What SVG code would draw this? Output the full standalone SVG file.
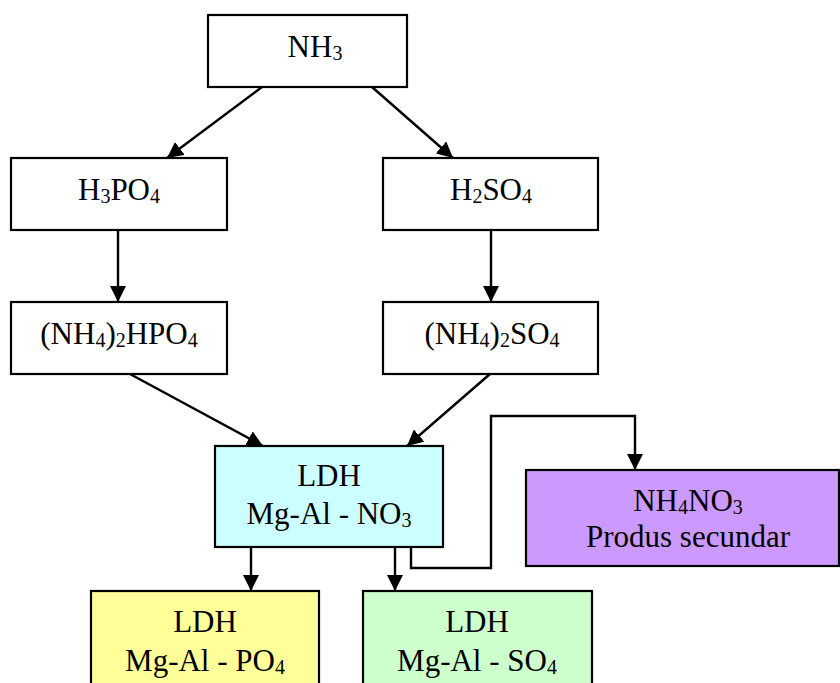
<svg xmlns="http://www.w3.org/2000/svg" width="840" height="683" viewBox="0 0 840 683">
<style>
.box{stroke:#000;stroke-width:2.2;fill:#fff}
text{font-family:"Liberation Serif","DejaVu Serif",serif;font-size:31px;text-anchor:middle;fill:#000}
.s{font-size:20px}
.c{fill:none;stroke:#000;stroke-width:2.4}
</style>
<defs>
<marker id="ah" markerUnits="userSpaceOnUse" markerWidth="16" markerHeight="16" refX="16" refY="8" orient="auto">
<path d="M0,0 L16,8 L0,16 z" fill="#000"/>
</marker>
</defs>
<rect width="840" height="683" fill="#fff"/>
<g id="connectors">
<line class="c" x1="262" y1="87" x2="167" y2="158" marker-end="url(#ah)"/>
<line class="c" x1="372" y1="87" x2="453" y2="158" marker-end="url(#ah)"/>
<line class="c" x1="118" y1="230" x2="118" y2="302" marker-end="url(#ah)"/>
<line class="c" x1="491" y1="230" x2="491" y2="302" marker-end="url(#ah)"/>
<line class="c" x1="130" y1="374" x2="263" y2="446" marker-end="url(#ah)"/>
<line class="c" x1="490" y1="374" x2="407" y2="446" marker-end="url(#ah)"/>
<line class="c" x1="251" y1="547" x2="251" y2="591" marker-end="url(#ah)"/>
<line class="c" x1="395" y1="547" x2="395" y2="591" marker-end="url(#ah)"/>
<polyline class="c" points="411,547 411,568 491,568 491,416 635,416 635,470" marker-end="url(#ah)"/>
</g>
<g id="nh3">
<rect class="box" x="208" y="15" width="199" height="72"/>
<text x="315" y="57">NH<tspan class="s" dy="3">3</tspan></text>
</g>
<g id="h3po4">
<rect class="box" x="11" y="158" width="216" height="72"/>
<text x="119" y="200">H<tspan class="s" dy="3">3</tspan><tspan dy="-3">PO</tspan><tspan class="s" dy="3">4</tspan></text>
</g>
<g id="h2so4">
<rect class="box" x="383" y="158" width="215" height="72"/>
<text x="491" y="200">H<tspan class="s" dy="3">2</tspan><tspan dy="-3">SO</tspan><tspan class="s" dy="3">4</tspan></text>
</g>
<g id="nh42hpo4">
<rect class="box" x="11" y="302" width="216" height="72"/>
<text x="119" y="344">(NH<tspan class="s" dy="3">4</tspan><tspan dy="-3">)</tspan><tspan class="s" dy="3">2</tspan><tspan dy="-3">HPO</tspan><tspan class="s" dy="3">4</tspan></text>
</g>
<g id="nh42so4">
<rect class="box" x="383" y="302" width="215" height="72"/>
<text x="492" y="344">(NH<tspan class="s" dy="3">4</tspan><tspan dy="-3">)</tspan><tspan class="s" dy="3">2</tspan><tspan dy="-3">SO</tspan><tspan class="s" dy="3">4</tspan></text>
</g>
<g id="ldh-no3">
<rect class="box" x="215" y="446" width="228" height="101" style="fill:#CCFFFF"/>
<text x="329" y="486">LDH</text>
<text x="329" y="524">Mg-Al - NO<tspan class="s" dy="3">3</tspan></text>
</g>
<g id="nh4no3">
<rect class="box" x="526" y="470" width="313" height="96" style="fill:#CC99FF"/>
<text x="688" y="511">NH<tspan class="s" dy="3">4</tspan><tspan dy="-3">NO</tspan><tspan class="s" dy="3">3</tspan></text>
<text x="688" y="547">Produs secundar</text>
</g>
<g id="ldh-po4">
<rect class="box" x="91" y="591" width="228" height="110" style="fill:#FFFF99"/>
<text x="205" y="632">LDH</text>
<text x="205" y="671">Mg-Al - PO<tspan class="s" dy="3">4</tspan></text>
</g>
<g id="ldh-so4">
<rect class="box" x="363" y="591" width="229" height="110" style="fill:#CCFFCC"/>
<text x="477" y="632">LDH</text>
<text x="477" y="671">Mg-Al - SO<tspan class="s" dy="3">4</tspan></text>
</g>
</svg>
